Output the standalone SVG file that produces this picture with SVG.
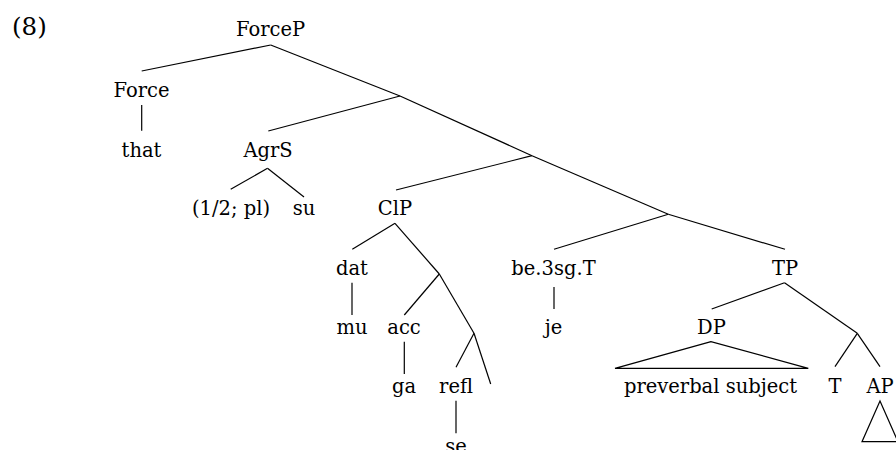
<svg xmlns="http://www.w3.org/2000/svg" width="896" height="450" viewBox="0 0 896 450">
<style>
text{font-family:"DejaVu Serif",serif;font-size:19.5px;fill:#000;text-anchor:middle}
.lbl{font-size:24.5px;text-anchor:start}
line,polygon{stroke:#000;stroke-width:1.2;fill:none}
</style>
<rect width="896" height="450" fill="#fff"/>
<text class="lbl" x="12" y="35">(8)</text>
<g id="connectors">
<line x1="270.7" y1="45" x2="141.7" y2="71"/>
<line x1="270.7" y1="45" x2="400" y2="96"/>
<line x1="400" y1="96" x2="268.3" y2="131"/>
<line x1="400" y1="96" x2="532" y2="155.7"/>
<line x1="141.7" y1="105" x2="141.7" y2="130.7"/>
<line x1="267.5" y1="168.3" x2="230.7" y2="189.3"/>
<line x1="267.5" y1="168.3" x2="304" y2="197"/>
<line x1="532" y1="155.7" x2="396" y2="190"/>
<line x1="532" y1="155.7" x2="668.3" y2="214.3"/>
<line x1="395" y1="223.3" x2="352.3" y2="249.3"/>
<line x1="395" y1="223.3" x2="439.3" y2="274"/>
<line x1="439.3" y1="274" x2="404.3" y2="315"/>
<line x1="439.3" y1="274" x2="474" y2="333.3"/>
<line x1="474" y1="333.3" x2="456" y2="367.3"/>
<line x1="474" y1="333.3" x2="490.7" y2="384"/>
<line x1="352" y1="282.7" x2="352" y2="315"/>
<line x1="404.3" y1="341.7" x2="404.3" y2="374"/>
<line x1="456" y1="400.7" x2="456" y2="433.3"/>
<line x1="668.3" y1="214.3" x2="554" y2="249.3"/>
<line x1="668.3" y1="214.3" x2="785" y2="249.3"/>
<line x1="554" y1="287" x2="554" y2="309"/>
<line x1="784.5" y1="282.7" x2="711.7" y2="309"/>
<line x1="784.5" y1="282.7" x2="857.3" y2="333.3"/>
<line x1="857.3" y1="333.3" x2="835" y2="366.7"/>
<line x1="857.3" y1="333.3" x2="880" y2="366.7"/>
<polygon points="711,341.7 615,368.3 808.3,368.3"/>
<polygon points="880,401 862,441.7 898,441.7"/>
</g>
<g id="ForceP"><text x="270.5" y="36">ForceP</text></g>
<g id="Force"><text x="141.5" y="96.7">Force</text></g>
<g id="that"><text x="141.5" y="156.7">that</text></g>
<g id="AgrS"><text x="268" y="156.7">AgrS</text></g>
<g id="phi"><text x="231" y="215">(1/2; pl)</text></g>
<g id="su"><text x="304" y="215">su</text></g>
<g id="ClP"><text x="395" y="215">ClP</text></g>
<g id="dat"><text x="352" y="275">dat</text></g>
<g id="mu"><text x="352" y="334">mu</text></g>
<g id="acc"><text x="404" y="334">acc</text></g>
<g id="ga"><text x="404" y="393">ga</text></g>
<g id="refl"><text x="456" y="393">refl</text></g>
<g id="se"><text x="456" y="453">se</text></g>
<g id="be"><text x="553.5" y="275">be.3sg.T</text></g>
<g id="je"><text x="553.5" y="334">je</text></g>
<g id="TP"><text x="785" y="275">TP</text></g>
<g id="DP"><text x="711.5" y="334">DP</text></g>
<g id="subj"><text x="710.5" y="393">preverbal subject</text></g>
<g id="T"><text x="835" y="393">T</text></g>
<g id="AP"><text x="880" y="393">AP</text></g>
</svg>
